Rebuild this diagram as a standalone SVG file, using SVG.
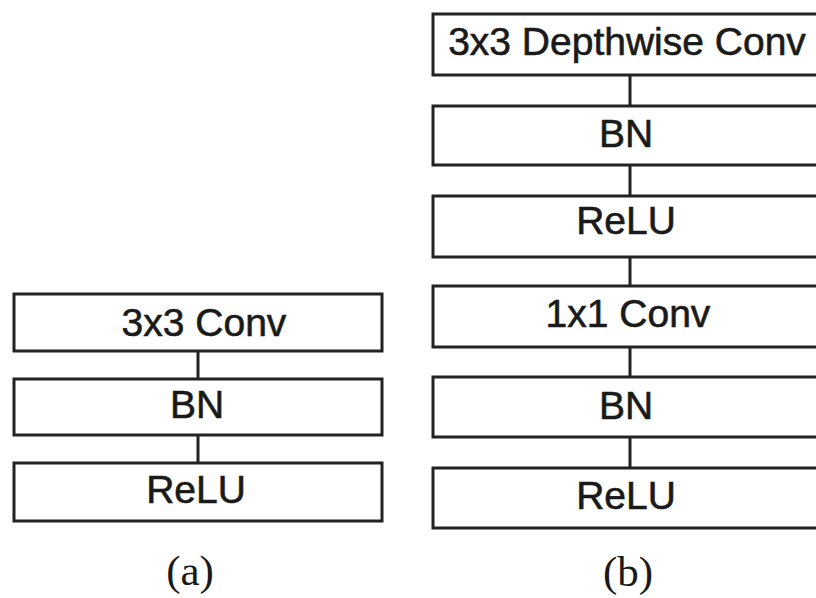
<svg xmlns="http://www.w3.org/2000/svg" width="816" height="598" viewBox="0 0 816 598">
<style>
.box{fill:#fff;stroke:#222;stroke-width:3}
.lbl{font-family:"Liberation Sans",Arial,sans-serif;font-size:39px;fill:#1a1a1a;stroke:#1a1a1a;stroke-width:0.6;text-anchor:middle}
.cap{font-family:"Liberation Serif","Times New Roman",serif;font-size:43px;fill:#1a1a1a;text-anchor:middle}
.con{stroke:#222;stroke-width:3}
</style>
<rect width="816" height="598" fill="#fff"/>
<g id="connectors">
<line class="con" x1="198" y1="351" x2="198" y2="379"/>
<line class="con" x1="198" y1="435" x2="198" y2="463"/>
<line class="con" x1="630" y1="75" x2="630" y2="106"/>
<line class="con" x1="630" y1="165" x2="630" y2="196"/>
<line class="con" x1="630" y1="257" x2="630" y2="286"/>
<line class="con" x1="630" y1="347" x2="630" y2="377"/>
<line class="con" x1="630" y1="437" x2="630" y2="468"/>
</g>
<g id="a-conv"><rect class="box" x="14" y="294" width="368" height="57"/><text class="lbl" x="204" y="336">3x3 Conv</text></g>
<g id="a-bn"><rect class="box" x="14" y="379" width="368" height="56"/><text class="lbl" x="197" y="418">BN</text></g>
<g id="a-relu"><rect class="box" x="14" y="463" width="368" height="58"/><text class="lbl" x="196" y="503">ReLU</text></g>
<g id="b-dw"><rect class="box" x="433" y="14" width="394" height="61"/><text class="lbl" x="627" y="55">3x3 Depthwise Conv</text></g>
<g id="b-bn1"><rect class="box" x="433" y="106" width="394" height="59"/><text class="lbl" x="626" y="147">BN</text></g>
<g id="b-relu1"><rect class="box" x="433" y="196" width="394" height="61"/><text class="lbl" x="626" y="234">ReLU</text></g>
<g id="b-pw"><rect class="box" x="433" y="286" width="394" height="61"/><text class="lbl" x="628" y="327">1x1 Conv</text></g>
<g id="b-bn2"><rect class="box" x="433" y="377" width="394" height="60"/><text class="lbl" x="626" y="419">BN</text></g>
<g id="b-relu2"><rect class="box" x="433" y="468" width="394" height="60"/><text class="lbl" x="626" y="509">ReLU</text></g>
<text class="cap" x="190" y="585">(a)</text>
<text class="cap" x="628" y="586">(b)</text>
</svg>
